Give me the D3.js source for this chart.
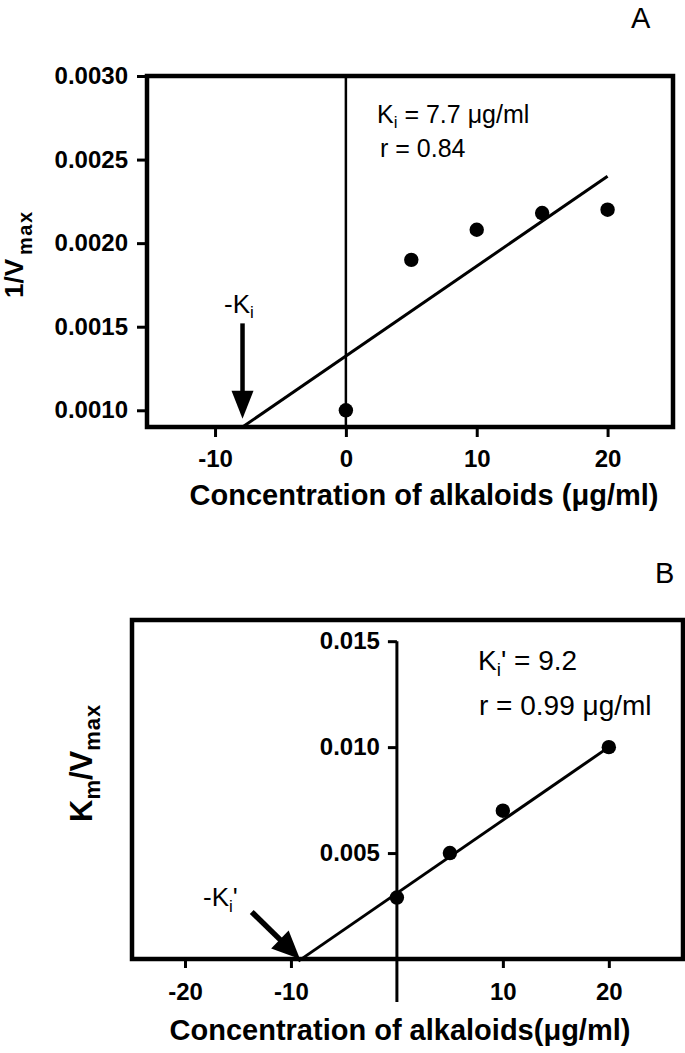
<!DOCTYPE html>
<html><head><meta charset="utf-8">
<script src="https://cdn.jsdelivr.net/npm/d3@7"></script>
<style>
body{margin:0;background:#fff;}
svg text{font-family:"Liberation Sans", Arial, Helvetica, sans-serif;fill:#000;}
</style></head><body>
<svg id="chart" width="685" height="1053"></svg>
<script>
// ---- Panel A data ----
const concA = [0, 5, 10, 15, 20];
const invVmaxA = [0.0010, 0.0019, 0.00208, 0.00218, 0.0022];
const fitA = [[-7.9, 0.0009], [20, 0.0024]];
const xTicksA = [-10, 0, 10, 20];
const yTicksA = [0.0010, 0.0015, 0.0020, 0.0025, 0.0030];
// ---- Panel B data ----
const concB = [0, 5, 10, 20];
const kmVmaxB = [0.0029, 0.0050, 0.0070, 0.0100];
const fitB = [[-9.3, -0.0001], [20, 0.0100]];
const xTicksB = [-20, -10, 10, 20];
const yTicksB = [0.005, 0.010, 0.015];

const svg = d3.select('#chart');

function arrow(g, x1, y1, x2, y2, headLen, headW, shaftW) {
  const dx = x2 - x1, dy = y2 - y1, L = Math.hypot(dx, dy);
  const ux = dx / L, uy = dy / L, px = -uy, py = ux;
  const bx = x2 - ux * headLen, by = y2 - uy * headLen;
  g.append('line').attr('x1', x1).attr('y1', y1).attr('x2', bx + ux).attr('y2', by + uy)
    .attr('stroke', '#000').attr('stroke-width', shaftW);
  g.append('path').attr('d', `M${x2},${y2}L${bx + px * headW},${by + py * headW}L${bx - px * headW},${by - py * headW}Z`)
    .attr('fill', '#000');
}

function styleAxis(g, fs) {
  g.select('.domain').remove();
  g.selectAll('.tick line').attr('stroke', '#000').attr('stroke-width', 3);
  g.selectAll('.tick text').attr('font-size', fs).attr('font-weight', 'bold')
    .attr('font-family', '"Liberation Sans", Arial, sans-serif').attr('fill', '#000');
}

// ================= Panel A =================
const xA = d3.scaleLinear().domain([-15.2, 25]).range([147, 673]);
const yA = d3.scaleLinear().domain([0.0009, 0.0030]).range([427, 76]);
const gA = svg.append('g');

gA.append('line').attr('x1', xA(0)).attr('x2', xA(0)).attr('y1', yA.range()[1]).attr('y2', yA.range()[0])
  .attr('stroke', '#000').attr('stroke-width', 2.5);

gA.append('path').datum(fitA)
  .attr('d', d3.line().x(d => xA(d[0])).y(d => yA(d[1])))
  .attr('stroke', '#000').attr('stroke-width', 3).attr('fill', 'none');

gA.selectAll('circle').data(concA.map((c, i) => [c, invVmaxA[i]])).join('circle')
  .attr('cx', d => xA(d[0])).attr('cy', d => yA(d[1])).attr('r', 7.2).attr('fill', '#000');

gA.append('rect').attr('x', xA.range()[0]).attr('y', yA.range()[1])
  .attr('width', xA.range()[1] - xA.range()[0]).attr('height', yA.range()[0] - yA.range()[1])
  .attr('fill', 'none').attr('stroke', '#000').attr('stroke-width', 4.5);

const axYA = gA.append('g').attr('transform', `translate(${xA.range()[0]},0)`)
  .call(d3.axisLeft(yA).tickValues(yTicksA).tickFormat(d3.format('.4f')).tickSize(10).tickPadding(9));
styleAxis(axYA, 24);
const axXA = gA.append('g').attr('transform', `translate(0,${yA.range()[0]})`)
  .call(d3.axisBottom(xA).tickValues(xTicksA).tickFormat(d => String(d)).tickSize(10).tickPadding(13));
styleAxis(axXA, 24);

arrow(gA, xA(-7.9), yA(0.00152), xA(-7.9), yA(0.00095), 28, 11, 4.5);
const kiA = gA.append('text').attr('x', 224).attr('y', 313).attr('font-size', 26);
kiA.append('tspan').text('-K');
kiA.append('tspan').attr('font-size', 17).attr('dy', 5).text('i');

const annA1 = gA.append('text').attr('x', 377).attr('y', 123).attr('font-size', 25);
annA1.append('tspan').text('K');
annA1.append('tspan').attr('font-size', 17).attr('dy', 5).text('i');
annA1.append('tspan').attr('dy', -5).text(' = 7.7 \u03BCg/ml');
gA.append('text').attr('x', 380).attr('y', 157).attr('font-size', 25).text('r = 0.84');

gA.append('text').attr('x', 631).attr('y', 28).attr('font-size', 29).text('A');

gA.append('text').attr('x', 424).attr('y', 505).attr('text-anchor', 'middle')
  .attr('font-size', 29).attr('font-weight', 'bold').text('Concentration of alkaloids (\u03BCg/ml)');
const ytA = gA.append('text').attr('transform', 'translate(23,298) rotate(-90)')
  .attr('font-weight', 'bold').attr('font-size', 26);
ytA.append('tspan').text('1/V');
ytA.append('tspan').attr('font-size', 20).attr('dy', 9).attr('dx', 4).attr('letter-spacing', 1.5).text('max');

// ================= Panel B =================
const xB = d3.scaleLinear().domain([-25, 27]).range([132, 683]);
const yB = d3.scaleLinear().domain([0, 0.016]).range([959, 620]);
const gB = svg.append('g');

gB.append('line').attr('x1', xB(0)).attr('x2', xB(0)).attr('y1', yB(0.015)).attr('y2', yB(0) + 43)
  .attr('stroke', '#000').attr('stroke-width', 3);

gB.append('path').datum(fitB)
  .attr('d', d3.line().x(d => xB(d[0])).y(d => yB(d[1])))
  .attr('stroke', '#000').attr('stroke-width', 3).attr('fill', 'none');

gB.selectAll('circle').data(concB.map((c, i) => [c, kmVmaxB[i]])).join('circle')
  .attr('cx', d => xB(d[0])).attr('cy', d => yB(d[1])).attr('r', 7.2).attr('fill', '#000');

gB.append('rect').attr('x', xB.range()[0]).attr('y', yB.range()[1])
  .attr('width', xB.range()[1] - xB.range()[0]).attr('height', yB.range()[0] - yB.range()[1])
  .attr('fill', 'none').attr('stroke', '#000').attr('stroke-width', 4.5);

const axYB = gB.append('g').attr('transform', `translate(${xB(0)},0)`)
  .call(d3.axisLeft(yB).tickValues(yTicksB).tickFormat(d3.format('.3f')).tickSize(9).tickPadding(8));
styleAxis(axYB, 24);
const axXB = gB.append('g').attr('transform', `translate(0,${yB.range()[0]})`)
  .call(d3.axisBottom(xB).tickValues(xTicksB).tickFormat(d => String(d)).tickSize(9).tickPadding(15));
styleAxis(axXB, 24);

arrow(gB, xB(-13.7), yB(0.00222), xB(-9.15), yB(0.0), 28, 12.5, 5.5);
const kiB = gB.append('text').attr('x', 203).attr('y', 906).attr('font-size', 26);
kiB.append('tspan').text('-K');
kiB.append('tspan').attr('font-size', 17).attr('dy', 6).text('i');
kiB.append('tspan').attr('dy', -6).text("'");

const annB1 = gB.append('text').attr('x', 478).attr('y', 670).attr('font-size', 28);
annB1.append('tspan').text('K');
annB1.append('tspan').attr('font-size', 19).attr('dy', 6).text('i');
annB1.append('tspan').attr('dy', -6).text("' = 9.2");
gB.append('text').attr('x', 479).attr('y', 715).attr('font-size', 28).text('r = 0.99 \u03BCg/ml');

gB.append('text').attr('x', 655).attr('y', 583).attr('font-size', 29).text('B');

gB.append('text').attr('x', 400).attr('y', 1040).attr('text-anchor', 'middle')
  .attr('font-size', 29).attr('font-weight', 'bold').text('Concentration of alkaloids(\u03BCg/ml)');
const ytB = gB.append('text').attr('transform', 'translate(92,822) rotate(-90)')
  .attr('font-weight', 'bold').attr('font-size', 31);
ytB.append('tspan').text('K');
ytB.append('tspan').attr('font-size', 22).attr('dy', 8).text('m');
ytB.append('tspan').attr('dy', -8).text('/V');
ytB.append('tspan').attr('font-size', 22).attr('dy', 8).attr('letter-spacing', 1).text('max');
</script>
</body></html>
